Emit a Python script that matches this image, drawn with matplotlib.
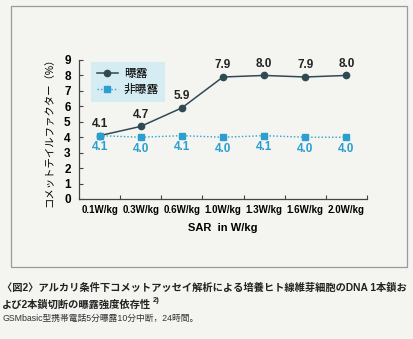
import matplotlib
matplotlib.use('Agg')
import matplotlib.pyplot as plt
from matplotlib.patches import Rectangle

plt.rcParams['font.family'] = ['Liberation Sans', 'Noto Sans CJK JP', 'DejaVu Sans']

sar_labels = ['0.1W/kg', '0.3W/kg', '0.6W/kg', '1.0W/kg', '1.3W/kg', '1.6W/kg', '2.0W/kg']
exposed = [4.1, 4.7, 5.9, 7.9, 8.0, 7.9, 8.0]
unexposed = [4.1, 4.0, 4.1, 4.0, 4.1, 4.0, 4.0]

dark = '#2f4a52'
cyan = '#2a9fd0'
bg = '#f4f4f1'

fig = plt.figure(figsize=(4.14, 3.39), dpi=100, facecolor=bg)

# outer frame around the chart
fig.patches.append(Rectangle((11 / 414, 1 - 267 / 339), 396 / 414, 261 / 339,
                             transform=fig.transFigure, fill=False,
                             edgecolor='#9a9a9a', linewidth=0.9))

ax = fig.add_axes([79 / 414, 1 - 199 / 339, 288 / 414, 139 / 339])
ax.set_facecolor(bg)
x = list(range(len(sar_labels)))

ax.plot(x, exposed, color=dark, marker='o', markersize=4.5, linewidth=1.1, label='曝露')
ax.plot(x, unexposed, color=cyan, marker='s', markersize=4, linewidth=1.0,
        linestyle=(0, (1, 1.5)), label='非曝露')

for xi, v in zip(x, exposed):
    ax.annotate(f'{v:.1f}', (xi, v), xytext=(0, 4), textcoords='offset points',
                ha='center', va='bottom', fontsize=8.5, fontweight='bold', color='#222')
for xi, v in zip(x, unexposed):
    ax.annotate(f'{v:.1f}', (xi, v), xytext=(0, -4), textcoords='offset points',
                ha='center', va='top', fontsize=8.5, fontweight='bold', color=cyan)

ax.set_xlim(-0.5, 6.5)
ax.set_ylim(0, 9)
ax.set_yticks(range(10))
ax.set_xticks([i + 0.5 for i in x])
ax.set_xticklabels([])
ax.set_xticks(x, minor=True)
ax.set_xticklabels(sar_labels, minor=True, fontsize=7, fontweight='bold')
ax.tick_params(axis='x', which='minor', length=0, pad=4)
ax.tick_params(axis='x', which='major', direction='in', length=3, color='#444')
ax.tick_params(axis='y', direction='in', length=3, color='#444', labelsize=8.5, pad=6)
for lab in ax.get_yticklabels():
    lab.set_fontweight('bold')

for s in ['top', 'right']:
    ax.spines[s].set_visible(False)
for s in ['left', 'bottom']:
    ax.spines[s].set_color('#444')
    ax.spines[s].set_linewidth(0.9)

ax.set_xlabel('SAR  in W/kg', fontsize=8, fontweight='bold', labelpad=6)
ax.set_ylabel('コメットテイルファクター（%）', fontsize=7.5, labelpad=7)

leg = ax.legend(loc='upper left', bbox_to_anchor=(0.02, 1.03), fontsize=8.5,
                frameon=True, fancybox=False, handlelength=1.8,
                borderpad=0.5, labelspacing=0.35, handletextpad=0.5)
leg.get_frame().set_facecolor('#d6ecf3')
leg.get_frame().set_edgecolor('none')
leg.get_frame().set_alpha(1)

cap_size = 7.6
line1 = fig.text(0.005, 1 - 288 / 339, '〈図2〉アルカリ条件下コメットアッセイ解析による培養ヒト線維芽細胞のDNA 1本鎖お',
                 fontsize=cap_size, fontweight='bold', color='#222', va='center')
fig.canvas.draw()
w = line1.get_window_extent().width
if w > 403:
    cap_size = cap_size * 403 / w
    line1.set_fontsize(cap_size)
line2 = fig.text(0.005, 1 - 305 / 339, 'よび2本鎖切断の曝露強度依存性',
                 fontsize=cap_size, fontweight='bold', color='#222', va='center')
fig.canvas.draw()
ext = line2.get_window_extent()
fig.text(ext.x1 / 414 + 0.003, 1 - 301 / 339, '2)', fontsize=5.5, fontweight='bold',
         color='#222', va='center')
fig.text(0.005, 1 - 318 / 339, 'GSMbasic型携帯電話5分曝露10分中断，24時間。',
         fontsize=6.3, color='#333', va='center')

fig.savefig('out.png', dpi=100, facecolor=bg)
